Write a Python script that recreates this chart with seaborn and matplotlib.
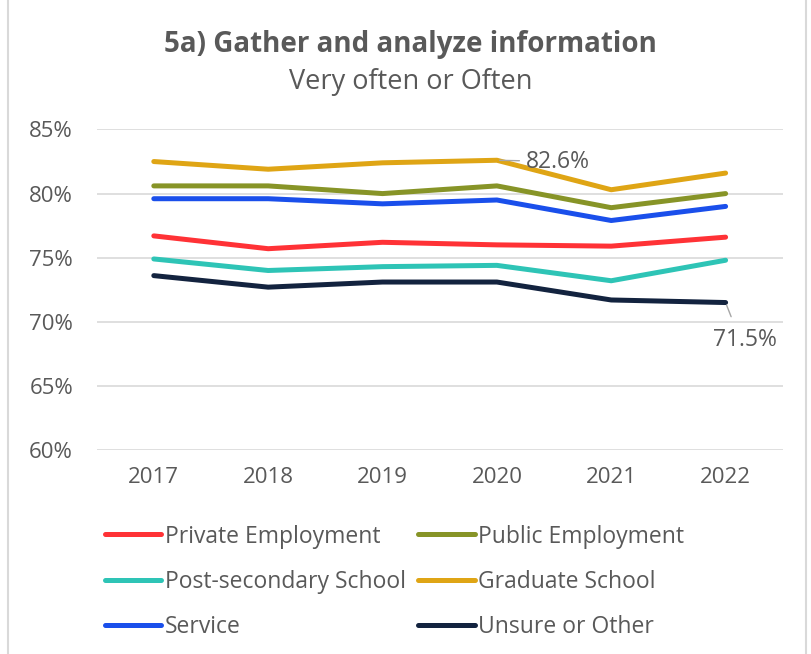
import numpy as np
import pandas as pd
import matplotlib.pyplot as plt
import seaborn as sns
from matplotlib.lines import Line2D

# data
years = ['2017', '2018', '2019', '2020', '2021', '2022']
private_emp = [76.7, 75.7, 76.2, 76.0, 75.9, 76.6]
public_emp = [80.6, 80.6, 80.0, 80.6, 78.9, 80.0]
post_secondary = [74.9, 74.0, 74.3, 74.4, 73.2, 74.8]
graduate = [82.5, 81.9, 82.4, 82.6, 80.3, 81.6]
service = [79.6, 79.6, 79.2, 79.5, 77.9, 79.0]
unsure = [73.6, 72.7, 73.1, 73.1, 71.7, 71.5]

groups = ['Private Employment', 'Public Employment', 'Post-secondary School',
          'Graduate School', 'Service', 'Unsure or Other']
series = [private_emp, public_emp, post_secondary, graduate, service, unsure]
colors = ['#FF3236', '#879427', '#2EC4B6', '#DFA515', '#1A4FEB', '#13233F']

rows = []
for g, vals in zip(groups, series):
    for y, v in zip(years, vals):
        rows.append({'Year': y, 'Group': g, 'Value': v})
df = pd.DataFrame(rows)

sns.set_style("white")
plt.rcParams['font.family'] = ['Open Sans', 'DejaVu Sans']
grey = '#595959'

fig = plt.figure(figsize=(8.12, 6.54), dpi=100)
ax = fig.add_axes([0.119, 0.312, 0.845, 0.49])

sns.lineplot(data=df, x='Year', y='Value', hue='Group', hue_order=groups,
             palette=colors, linewidth=3.6, sort=False, ax=ax, legend=False)
for ln in ax.lines:
    ln.set_solid_capstyle('round')
    ln.set_solid_joinstyle('round')

ax.set_xlim(-0.5, 5.5)
ax.set_ylim(60, 85)
ax.set_yticks([60, 65, 70, 75, 80, 85])
ax.set_yticklabels([f'{t}%' for t in [60, 65, 70, 75, 80, 85]])
ax.yaxis.grid(True, color='#D9D9D9', linewidth=1.2)
ax.set_axisbelow(True)
for s in ax.spines.values():
    s.set_visible(False)
ax.set_xlabel('')
ax.set_ylabel('')
ax.tick_params(axis='both', length=0, labelsize=16, colors=grey)
ax.tick_params(axis='x', pad=12)
ax.tick_params(axis='y', pad=17)

# data labels with leader lines
ax.annotate('82.6%', xy=(3, graduate[3]), xytext=(3.25, graduate[3] - 0.1),
            fontsize=16.5, color=grey, va='center', ha='left',
            arrowprops=dict(arrowstyle='-', color='#A6A6A6', lw=1, shrinkA=2, shrinkB=2))
ax.annotate('71.5%', xy=(5, unsure[5]), xytext=(5.17, unsure[5] - 2.9),
            fontsize=16.5, color=grey, va='center', ha='center',
            arrowprops=dict(arrowstyle='-', color='#A6A6A6', lw=1, shrinkA=6, shrinkB=2,
                            relpos=(0.35, 1.0)))

fig.text(0.506, 0.932, '5a) Gather and analyze information', ha='center', va='center',
         fontsize=20, fontweight='bold', color=grey)
fig.text(0.506, 0.875, 'Very often or Often', ha='center', va='center',
         fontsize=19.5, color=grey)

# legend: row-wise order in 2 columns
order = [0, 2, 4, 1, 3, 5]
handles = [Line2D([0], [0], color=colors[i], lw=3.6, solid_capstyle='round') for i in order]
labels = [groups[i] for i in order]
fig.legend(handles, labels, ncol=2, loc='upper left', bbox_to_anchor=(0.129, 0.198),
           frameon=False, fontsize=16.5, labelcolor=grey, handlelength=2.45,
           handletextpad=0.17, columnspacing=0.55, labelspacing=0.92, borderpad=0,
           borderaxespad=0)

# light frame around the chart
fig.patches.append(plt.Rectangle((0.01, -0.01), 0.982, 1.05, transform=fig.transFigure,
                                 fill=False, edgecolor='#D9D9D9', linewidth=1.5))

fig.savefig('out.png', dpi=100)
